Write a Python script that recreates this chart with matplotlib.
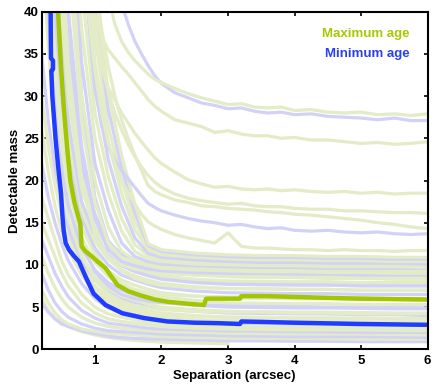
import numpy as np
import matplotlib.pyplot as plt

plt.rcParams['font.family'] = ['Liberation Sans', 'DejaVu Sans']
plt.rcParams['font.weight'] = 'bold'

nan = np.nan

# separation grid (arcsec) for the bulk of the curves
sep = [0.2, 0.3, 0.4, 0.5, 0.6, 0.8, 1.0, 1.2, 1.4, 1.6, 1.8, 2.0, 2.5, 3.0, 3.5, 4.0, 4.5, 5.0, 5.5, 6.0]

# individual targets: detectable mass vs separation (values > 40 run off the top)
band_curves = [
    [6.0, 4.6, 3.7, 3.1, 2.7, 2.1, 1.7, 1.4, 1.2, 1.05, 0.95, 0.85, 0.75, 0.65, nan, nan, nan, nan, nan, nan],
    [5.5, 4.4, 3.6, 3.0, 2.7, 2.2, 1.85, 1.55, 1.4, 1.3, 1.25, 1.2, 1.1, 1.0, 1.0, 0.95, 0.95, 0.9, 0.9, 0.9],
    [7.0, 5.5, 4.3, 3.5, 3.0, 2.4, 2.1, 1.9, 1.8, 1.7, 1.6, 1.5, 1.4, 1.3, 1.3, 1.3, 1.25, 1.2, 1.2, 1.2],
    [9.0, 7.0, 5.5, 4.5, 3.8, 3.0, 2.5, 2.2, 2.1, 2.0, 1.9, 1.8, 1.7, 1.6, 1.55, 1.5, 1.5, 1.5, 1.45, 1.4],
    [11.0, 9.0, 7.3, 6.0, 5.0, 3.8, 3.1, 2.7, 2.5, 2.35, 2.2, 2.1, 2.0, 1.9, 1.85, 1.8, 1.8, 1.8, 1.75, 1.7],
    [13.0, 11.0, 9.0, 7.5, 6.2, 4.6, 3.7, 3.1, 2.9, 2.7, 2.5, 2.4, 2.3, 2.2, 2.15, 2.1, 2.05, 2.0, 2.0, 2.0],
    [15.0, 13.0, 11.0, 9.0, 7.5, 5.5, 4.3, 3.6, 3.3, 3.1, 2.9, 2.7, 2.5, 2.4, 2.35, 2.3, 2.3, 2.3, 2.25, 2.2],
    [60, 42, 28, 19, 14, 9.0, 6.5, 5.2, 4.5, 4.1, 3.8, 3.6, 3.4, 3.3, 3.3, 3.2, 3.2, 3.2, 3.1, 3.1],
    [18.0, 15.5, 13.0, 10.5, 8.8, 6.5, 5.0, 4.2, 3.8, 3.5, 3.2, 3.0, 2.8, 2.7, 2.65, 2.6, 2.6, 2.6, 2.55, 2.5],
    [22.0, 18.0, 15.0, 12.5, 10.5, 7.8, 6.0, 4.9, 4.4, 4.0, 3.6, 3.4, 3.2, 3.1, 3.05, 3.0, 3.0, 2.9, 2.9, 2.9],
    [60, 48, 31, 21, 15.5, 10.0, 7.3, 5.9, 5.1, 4.6, 4.3, 4.1, 3.9, 3.8, 3.8, 3.7, 3.7, 3.7, 3.6, 3.6],
    [26, 21, 17, 14, 11.8, 8.8, 6.8, 5.6, 4.9, 4.5, 4.0, 3.8, 3.5, 3.4, 3.35, 3.3, 3.3, 3.2, 3.2, 3.2],
    [30, 24, 19.5, 16, 13.2, 9.6, 7.5, 6.2, 5.4, 5.0, 4.5, 4.3, 4.0, 3.8, 3.75, 3.7, 3.7, 3.6, 3.6, 3.6],
    [35, 27, 21.5, 17.5, 14.5, 10.5, 8.2, 6.8, 6.0, 5.5, 5.0, 4.8, 4.5, 4.3, 4.25, 4.2, 4.2, 4.1, 4.1, 4.0],
    [60, 55, 36, 24, 17.5, 11.2, 8.2, 6.6, 5.7, 5.2, 4.9, 4.7, 4.5, 4.4, 4.4, 4.3, 4.3, 4.2, 4.2, 4.2],
    [48, 36, 26, 19.5, 15.5, 11, 8.6, 7.2, 6.3, 5.8, 5.4, 5.0, 4.7, 4.5, 4.45, 4.4, 4.4, 4.35, 4.3, 4.3],
    [60, 60, 42, 28, 20, 12.5, 9.2, 7.5, 6.5, 6.0, 5.7, 5.5, 5.3, 5.2, 5.1, 5.1, 5.0, 5.0, 5.0, 4.9],
    [55, 40, 29, 21.5, 17, 12, 9.4, 7.9, 7.0, 6.4, 6.0, 5.6, 5.2, 5.0, 4.95, 4.9, 4.9, 4.85, 4.8, 4.8],
    [60, 45, 33, 24, 19, 13.2, 10.3, 8.6, 7.6, 7.0, 6.5, 6.2, 5.8, 5.5, 5.45, 5.4, 5.4, 5.3, 5.3, 5.3],
    [60, 50, 37, 27, 21, 14.5, 11.2, 9.3, 8.2, 7.6, 7.1, 6.7, 6.3, 6.1, 6.05, 6.0, 6.0, 5.9, 5.9, 5.8],
    [60, 60, 60, 38, 27, 16, 11.5, 9.0, 7.8, 7.1, 6.7, 6.5, 6.3, 6.2, 6.2, 6.1, 6.1, 6.1, 6.0, 6.0],
    [60, 55, 40, 30, 23, 15.5, 12, 10, 8.8, 8.2, 7.7, 7.3, 6.9, 6.7, 6.65, 6.6, 6.6, 6.5, 6.5, 6.5],
    [60, 60, 45, 33, 25, 16.5, 12.8, 10.7, 9.4, 8.7, 8.2, 7.8, 7.4, 7.2, 7.15, 7.1, 7.1, 7.0, 7.0, 7.0],
    [60, 60, 60, 60, 40, 21, 14, 10.8, 9.3, 8.4, 7.9, 7.6, 7.3, 7.2, 7.2, 7.1, 7.1, 7.0, 7.0, 7.0],
    [60, 60, 50, 36, 27, 17.5, 13.5, 11.2, 9.9, 9.2, 8.7, 8.3, 7.9, 7.7, 7.65, 7.6, 7.6, 7.5, 7.5, 7.5],
    [60, 60, 60, 60, 60, 30, 18, 12.8, 10.5, 9.4, 8.8, 8.4, 8.1, 8.0, 7.9, 7.9, 7.8, 7.8, 7.8, 7.7],
    [60, 60, 55, 40, 30, 19, 14.5, 12, 10.5, 9.7, 9.1, 8.7, 8.3, 8.1, 8.05, 8.0, 8.0, 7.9, 7.9, 7.9],
    [60, 60, 60, 45, 33, 20.5, 15.5, 12.6, 11, 10.1, 9.5, 9.2, 8.8, 8.6, 8.5, 8.5, 8.4, 8.4, 8.3, 8.3],
    [60, 60, 60, 50, 36, 22, 16, 12.8, 11.2, 10.3, 9.8, 9.5, 9.1, 8.9, 8.8, 8.8, 8.7, 8.7, 8.6, 8.6],
    [60, 60, 60, 48, 34, 20, 13.5, 11.0, 10.0, 9.5, 9.2, 9.0, 8.8, 8.7, 8.7, 8.6, 8.6, 8.5, 8.5, 8.5],
    [60, 60, 60, 55, 40, 24, 15.5, 11.8, 10.4, 9.9, 9.5, 9.3, 9.1, 9.0, 9.0, 8.9, 8.9, 8.8, 8.8, 8.8],
    [60, 60, 60, 60, 46, 27, 17.5, 12.6, 10.9, 10.3, 9.9, 9.6, 9.4, 9.3, 9.2, 9.2, 9.1, 9.1, 9.0, 9.0],
    [60, 60, 60, 60, 52, 30, 20, 14.5, 11.6, 10.6, 10.1, 9.9, 9.7, 9.6, 9.5, 9.5, 9.4, 9.4, 9.3, 9.3],
    [60, 60, 60, 60, 60, 34, 22, 16.5, 12.6, 11.0, 10.4, 10.1, 9.9, 9.8, 9.7, 9.7, 9.6, 9.6, 9.6, 9.6],
    [60, 60, 60, 60, 60, 38, 25, 18.5, 14, 11.6, 10.7, 10.4, 10.1, 10.0, 9.9, 9.9, 9.8, 9.8, 9.8, 9.7],
    [60, 60, 60, 60, 60, 43, 28, 20.5, 15.5, 12.4, 11.1, 10.7, 10.4, 10.2, 10.1, 10.1, 10.0, 10.0, 10.0, 9.9],
    [60, 60, 60, 60, 60, 48, 31, 22.5, 17, 13.2, 11.4, 10.9, 10.6, 10.4, 10.3, 10.3, 10.2, 10.2, 10.2, 10.1],
    [60, 60, 60, 60, 60, 54, 34, 24.5, 18.5, 14.2, 11.8, 11.2, 10.9, 10.7, 10.6, 10.6, 10.5, 10.5, 10.4, 10.4],
    [60, 60, 60, 60, 60, 60, 37, 26.5, 20, 15.2, 12.1, 11.4, 11.1, 10.9, 10.8, 10.8, 10.7, 10.7, 10.6, 10.6],
    [60, 60, 60, 60, 60, 60, 40, 28.5, 21.5, 16.2, 12.3, 11.6, 11.2, 11.0, 10.9, 10.9, 10.8, 10.8, 10.7, 10.7],
    [60, 60, 60, 60, 60, 60, 43, 30.5, 23, 17.2, 12.5, 11.8, 11.4, 11.2, 11.1, 11.1, 11.0, 11.0, 10.9, 10.9],
]
band_models = ['max', 'min', 'max', 'min', 'max', 'min', 'max', 'min', 'max', 'min',
               'max', 'max', 'max', 'min', 'max', 'max', 'min', 'min', 'max', 'max',
               'max', 'min', 'max', 'max', 'min', 'min', 'max', 'max', 'min', 'max',
               'min', 'max', 'max', 'min', 'max', 'max', 'min', 'max', 'max', 'min', 'max']

# the shallow-contrast targets, finer grid
sep_far = [0.9, 1.0, 1.1, 1.2, 1.3, 1.4, 1.5, 1.6, 1.7, 1.8, 1.9, 2.0, 2.2, 2.4, 2.6, 2.8, 3.0, 3.2, 3.4,
           3.6, 3.8, 4.0, 4.25, 4.5, 4.75, 5.0, 5.25, 5.5, 5.75, 6.0]
far_curves = [
    [60, 60, 55, 50, 45, 41, 38.5, 36.5, 35.0, 33.6, 32.4, 31.5, 30.4, 29.8, 29.2, 28.9, 28.5, 28.6, 28.2,
     28.0, 28.1, 27.8, 27.9, 27.6, 27.5, 27.4, 27.2, 27.4, 27.1, 27.1],
    [60, 60, 50, 42, 38.5, 36.5, 35.2, 34.2, 33.4, 32.6, 32.0, 31.6, 30.9, 30.3, 29.8, 29.4, 29.0, 29.1, 28.7,
     28.6, 28.7, 28.3, 28.4, 28.1, 28.0, 28.1, 27.8, 27.9, 27.7, 27.9],
    [44, 39.5, 37, 35.5, 34.5, 33.5, 32.6, 31.6, 30.6, 29.6, 28.8, 28.2, 27.2, 26.8, 26.4, 25.7, 25.9, 25.5, 25.3,
     25.3, 25.0, 25.1, 24.8, 24.8, 24.6, 24.4, 24.5, 24.3, 24.4, 24.6],
    [42, 37, 33.5, 31, 29.5, 28, 26.8, 25.6, 24.6, 23.6, 22.7, 22.0, 21.0, 20.1, 19.6, 19.2, 19.3, 19.0, 18.9,
     19.0, 18.8, 18.9, 18.7, 18.6, 18.7, 18.5, 18.6, 18.4, 18.5, 18.5],
    [45, 39, 34, 30.5, 28, 26, 24.3, 22.8, 21.6, 20.6, 19.8, 19.2, 18.4, 17.9, 17.6, 17.4, 17.2, 17.3, 17.0,
     16.9, 16.9, 16.7, 16.6, 16.6, 16.4, 16.4, 16.3, 16.2, 16.2, 16.1],
    [50, 44, 38, 33.5, 30, 27.2, 25, 23, 21.2, 19.4, 18.7, 18.3, 17.7, 17.4, 17.0, 16.9, 16.7, 16.6, 16.5,
     16.3, 16.2, 16.0, 15.9, 15.7, 15.5, 15.3, 15.0, 14.8, 14.5, 14.3],
    [40, 31, 26.5, 24, 22.4, 21.2, 20.2, 19.2, 18.2, 17.3, 16.8, 16.4, 15.9, 15.5, 15.2, 15.0, 14.7, 14.8, 14.5,
     14.3, 14.4, 14.1, 14.0, 14.1, 13.9, 13.8, 13.9, 13.7, 13.6, 13.7],
    [40, 33, 28, 24.5, 22, 20, 18.5, 17.2, 16.0, 15.1, 14.6, 14.2, 13.6, 13.2, 12.9, 12.6, 13.8, 12.2, 12.0,
     12.0, 11.9, 11.8, 11.8, 11.7, 11.8, 11.7, 11.7, 11.6, 11.7, 11.7],
]
far_models = ['min', 'max', 'max', 'max', 'max', 'max', 'min', 'max']

# median curves
max_sep = [0.446, 0.49, 0.535, 0.586, 0.63, 0.69, 0.74, 0.78, 0.80, 0.86, 0.955, 1.04, 1.16, 1.34, 1.5,
           1.68, 1.9, 2.09, 2.4, 2.64, 2.67, 3.18, 3.2, 3.6, 4.0, 5.0, 6.0]
max_mass = [40, 33.5, 28.4, 23.6, 20.0, 17.5, 16.0, 14.9, 12.2, 11.6, 11.0, 10.4, 9.6, 7.6, 6.9,
            6.4, 5.9, 5.64, 5.4, 5.25, 6.0, 6.0, 6.3, 6.3, 6.2, 6.0, 5.9]
min_sep = [0.335, 0.34, 0.37, 0.37, 0.345, 0.36, 0.41, 0.45, 0.49, 0.51, 0.53, 0.56, 0.61, 0.68, 0.76,
           0.86, 0.98, 1.16, 1.41, 1.74, 2.09, 2.5, 2.84, 3.18, 3.2, 3.5, 4.0, 5.0, 6.0]
min_mass = [40, 34.5, 34.2, 33.2, 33.0, 30.0, 24.8, 21.5, 18.5, 16.0, 14.1, 12.6, 11.8, 11.1, 10.4,
            8.6, 6.6, 5.25, 4.27, 3.7, 3.3, 3.15, 3.1, 3.0, 3.3, 3.25, 3.15, 3.0, 2.9]

pale = {'max': '#e3ebc7', 'min': '#d2d2f8'}

fig = plt.figure(figsize=(4.36, 3.87), dpi=100)
ax = fig.add_axes([0.0956, 0.0974, 0.8853, 0.8723])

for ys, m in zip(band_curves, band_models):
    ax.plot(sep, ys, color=pale[m], lw=2.3)
for ys, m in zip(far_curves, far_models):
    ax.plot(sep_far, ys, color=pale[m], lw=2.3)

ax.plot(max_sep, max_mass, color='#a2c600', lw=3.2)
ax.plot(min_sep, min_mass, color='#1f3cff', lw=3.2)

ax.text(0.952, 0.935, 'Maximum age', color='#a8c800', fontsize=9.5, fontweight='bold',
        ha='right', va='center', transform=ax.transAxes)
ax.text(0.952, 0.876, 'Minimum age', color='#2a40f0', fontsize=9.5, fontweight='bold',
        ha='right', va='center', transform=ax.transAxes)

ax.set_xlim(0.2, 6)
ax.set_ylim(0, 40)
ax.set_xticks([1, 2, 3, 4, 5, 6])
ax.set_yticks(range(0, 41, 5))
ax.tick_params(direction='in', top=True, right=True, length=3, width=1.2, labelsize=9.5)
ax.tick_params(axis='x', pad=4)
ax.tick_params(axis='y', pad=2)
for s in ax.spines.values():
    s.set_linewidth(1.5)
ax.set_xlabel('Separation (arcsec)', fontsize=9.5, fontweight='bold', labelpad=2)
ax.set_ylabel('Detectable mass', fontsize=9.5, fontweight='bold', labelpad=2)

fig.savefig('out.png', dpi=100)
